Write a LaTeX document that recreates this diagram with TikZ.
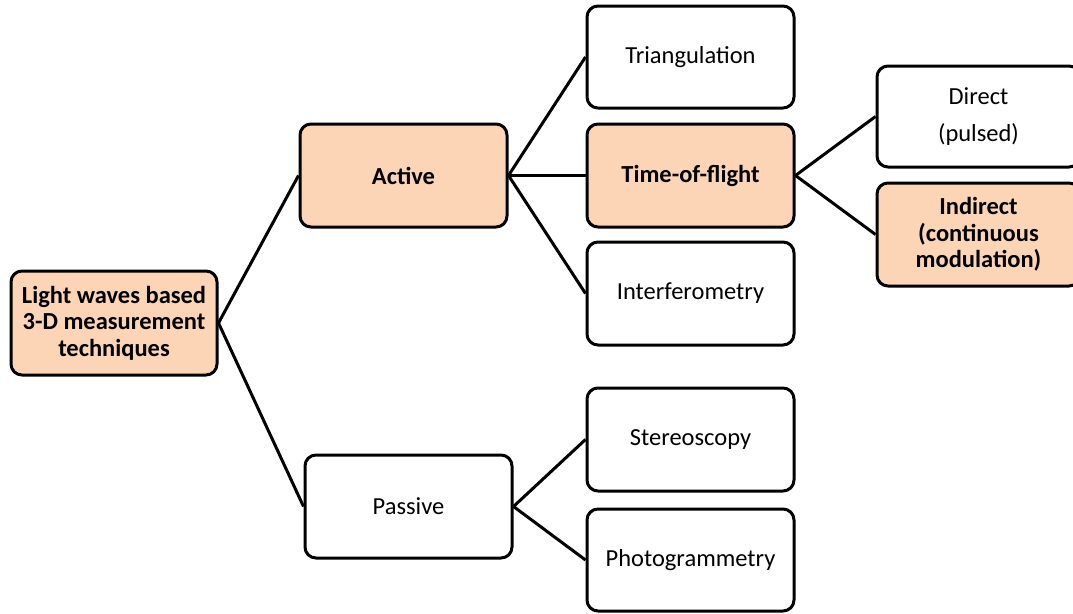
\documentclass[tikz,border=0pt]{standalone}
\usepackage{fontspec}
\setmainfont{Carlito}
\definecolor{peach}{HTML}{FBD5B5}
\begin{document}
\begin{tikzpicture}[x=1pt,y=-1pt,
  box/.style={draw=black, line width=3pt, rounded corners=11pt, align=center,
    font=\fontsize{24.5}{26.5}\selectfont, inner sep=0pt},
  hl/.style={box, fill=peach, font=\fontsize{24.5}{26.5}\selectfont\bfseries},
  conn/.style={line width=3pt}]
\useasboundingbox (0,0) rectangle (1073,613);
\newcommand{\bx}[6]{\node[#1, minimum width=#4-#3, minimum height=#6-#5] (#2) at ({(#3+#4)/2},{(#5+#6)/2})}
\bx{hl}{root}{11}{217}{271}{375}{Light waves based\\3-D measurement\\techniques};
\bx{hl}{active}{300}{507}{124}{227}{Active};
\bx{box}{passive}{305}{512}{455}{558}{Passive};
\bx{box}{tri}{587}{794}{6}{108}{Triangulation};
\bx{hl}{tof}{587}{794}{124}{227}{Time-of-flight};
\bx{box}{inter}{587}{794}{242}{345}{Interferometry};
\bx{box}{direct}{877}{1080}{66}{167}{Direct\\[10.5pt](pulsed)};
\bx{hl}{indirect}{877}{1080}{183}{286}{Indirect\\(continuous\\modulation)};
\bx{box}{stereo}{587}{794}{388}{491}{Stereoscopy};
\bx{box}{photo}{587}{794}{509}{611}{Photogrammetry};
\draw[conn] (root.east) -- (active.west);
\draw[conn] (root.east) -- (passive.west);
\draw[conn] (active.east) -- (tri.west);
\draw[conn] (active.east) -- (tof.west);
\draw[conn] (active.east) -- (inter.west);
\draw[conn] (passive.east) -- (stereo.west);
\draw[conn] (passive.east) -- (photo.west);
\draw[conn] (tof.east) -- (direct.west);
\draw[conn] (tof.east) -- (indirect.west);
\end{tikzpicture}
\end{document}
